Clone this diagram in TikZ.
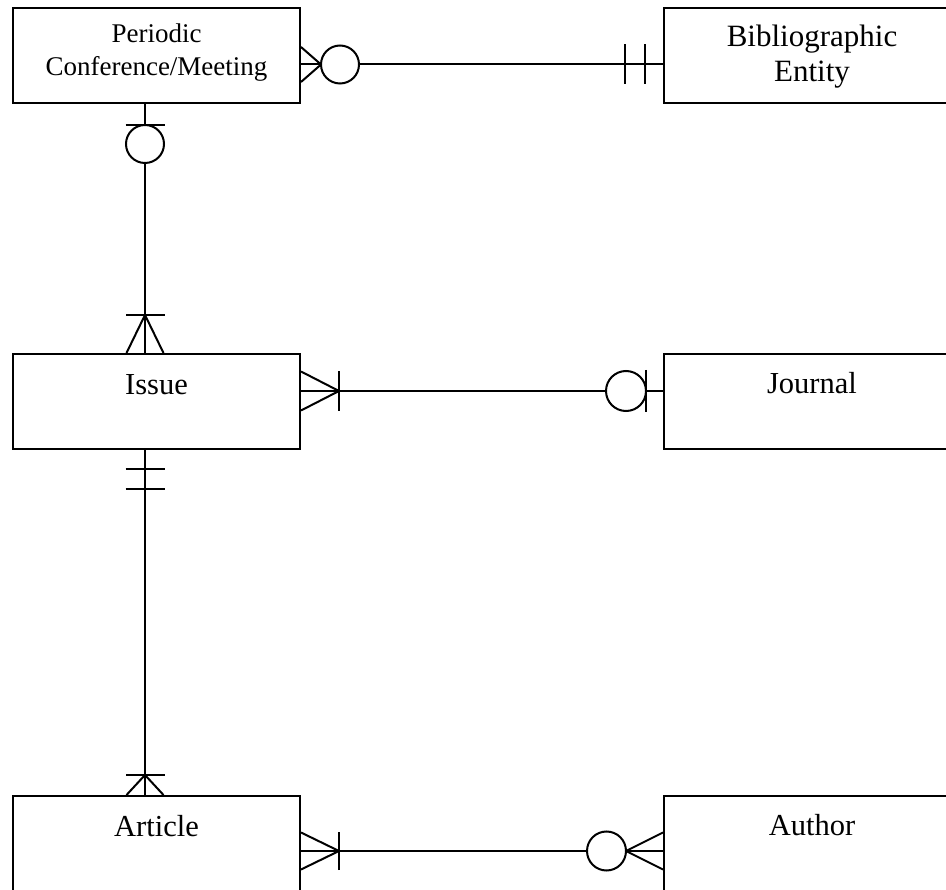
\documentclass[tikz,border=0pt]{standalone}
\usepackage{fontspec}
\setmainfont{Liberation Serif}
\usetikzlibrary{calc}

% cardinality marks, drawn in a local frame: x runs away from the box
\newcommand\crowmark[2]{\draw[rel] (0,#2) -- (#1,0) -- (0,-#2);}
\newcommand\barmark[2]{\draw[rel] (#1,-#2) -- (#1,#2);}
\newcommand\ringmark[2]{\draw[rel, fill=white] (#1,0) circle[radius=#2pt];}

\tikzset{
  rel/.style={line width=2pt, line cap=butt},
  entity/.style={draw, line width=2pt, minimum width=287pt, minimum height=95pt,
                 inner sep=0pt, anchor=north west},
  wideentity/.style={entity, minimum width=296pt},
  lbl/.style={font=\fontsize{30.5}{35}\selectfont, anchor=base, inner sep=0pt},
  twolbl/.style={font=\fontsize{31}{35}\selectfont, anchor=base, align=center, inner sep=0pt},
  smalllbl/.style={font=\fontsize{27}{33}\selectfont, anchor=base, align=center, inner sep=0pt},
}

\begin{document}
\begin{tikzpicture}[x=1pt, y=1pt]
\useasboundingbox (0,0) rectangle (946,-890);
\clip (0,0.5) rectangle (946,-889);

% entities
\node[entity]     (periodic) at (12,-7)    {};
\node[wideentity] (biblio)   at (663,-7)   {};
\node[entity]     (issue)    at (12,-353)  {};
\node[wideentity] (journal)  at (663,-353) {};
\node[entity]     (article)  at (12,-795)  {};
\node[wideentity] (author)   at (663,-795) {};

% entity names (two-line names sit on the baseline of their last line)
\node[smalllbl] (periodic-t) at ([yshift=-69pt]periodic.north) {Periodic\\Conference/Meeting};
\node[twolbl]   (biblio-t)   at ([yshift=-75pt]biblio.north)   {Bibliographic\\Entity};
\node[lbl]      (issue-t)    at ([yshift=-42pt]issue.north)    {Issue};
\node[lbl]      (journal-t)  at ([yshift=-41pt]journal.north)  {Journal};
\node[lbl]      (article-t)  at ([yshift=-41pt]article.north)  {Article};
\node[lbl]      (author-t)   at ([yshift=-40pt]author.north)   {Author};

% connector end points on the boxes
\coordinate (pe) at ([yshift=-57.5pt]periodic.north east);
\coordinate (bw) at ([yshift=-57.5pt]biblio.north west);
\coordinate (ps) at ([xshift=133pt]periodic.south west);
\coordinate (in) at ([xshift=133pt]issue.north west);
\coordinate (ie) at ([yshift=-38pt]issue.north east);
\coordinate (jw) at ([yshift=-38pt]journal.north west);
\coordinate (is) at ([xshift=133pt]issue.south west);
\coordinate (an) at ([xshift=133pt]article.north west);
\coordinate (ae) at ([yshift=-56pt]article.north east);
\coordinate (uw) at ([yshift=-56pt]author.north west);

% relationship lines
\draw[rel] (pe) -- (bw);
\draw[rel] (ps) -- (in);
\draw[rel] (ie) -- (jw);
\draw[rel] (is) -- (an);
\draw[rel] (ae) -- (uw);

% Periodic (zero or many) -- Bibliographic Entity (exactly one)
\begin{scope}[shift={(pe)}]
  \crowmark{20}{17.5}
  \ringmark{39}{19}
\end{scope}
\begin{scope}[shift={(bw)}, rotate=180]
  \barmark{18}{20}
  \barmark{38}{20}
\end{scope}

% Periodic (zero or one) -- Issue (one or many)
\begin{scope}[shift={(ps)}, rotate=-90]
  \barmark{21}{19.5}
  \ringmark{40}{19}
\end{scope}
\begin{scope}[shift={(in)}, rotate=90]
  \crowmark{38}{18.5}
  \barmark{38}{19.5}
\end{scope}

% Issue (one or many) -- Journal (zero or one)
\begin{scope}[shift={(ie)}]
  \crowmark{38}{19.5}
  \barmark{38}{20}
\end{scope}
\begin{scope}[shift={(jw)}, rotate=180]
  \barmark{17}{21}
  \ringmark{37}{20}
\end{scope}

% Issue (exactly one) -- Article (one or many)
\begin{scope}[shift={(is)}, rotate=-90]
  \barmark{19}{19.5}
  \barmark{39}{19.5}
\end{scope}
\begin{scope}[shift={(an)}, rotate=90]
  \crowmark{20}{18.5}
  \barmark{20}{19.5}
\end{scope}

% Article (one or many) -- Author (zero or many)
\begin{scope}[shift={(ae)}]
  \crowmark{38}{18.5}
  \barmark{38}{19}
\end{scope}
\begin{scope}[shift={(uw)}, rotate=180]
  \crowmark{37}{18.5}
  \ringmark{56.5}{19.5}
\end{scope}
\end{tikzpicture}
\end{document}
